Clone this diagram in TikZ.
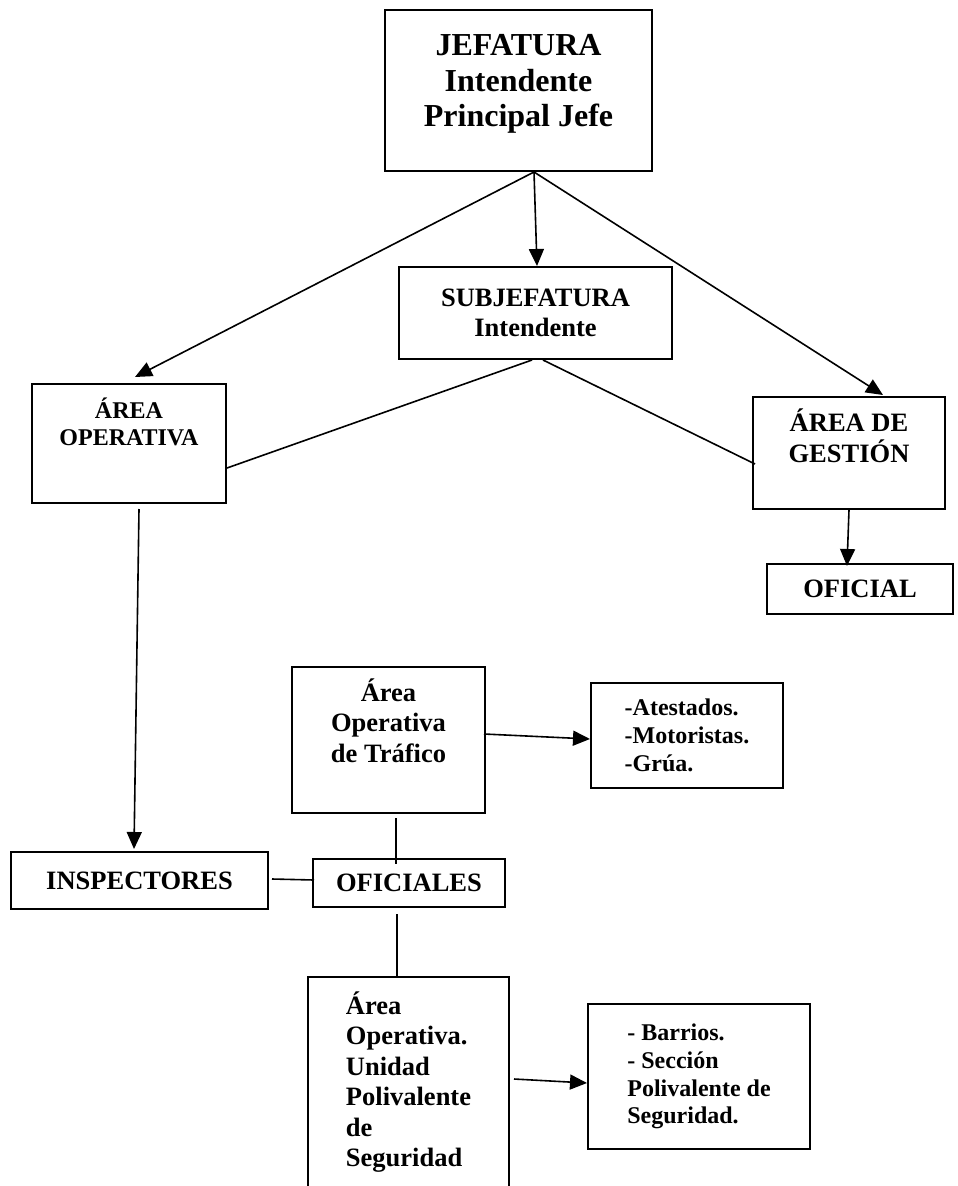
\documentclass[tikz,border=0pt]{standalone}
\usepackage{fontspec}
\setmainfont{Liberation Serif}
\usepackage{tikz}
\usetikzlibrary{arrows.meta, positioning}
\tikzset{
  org/box/.style={rectangle, draw=black, fill=white, line width=2pt,
    font=\fontsize{26.5}{30.5}\selectfont\bfseries, align=center,
    inner sep=0pt},
  org/top/.style={org/box, font=\fontsize{32}{35.5}\selectfont\bfseries},
  org/small/.style={org/box, font=\fontsize{24}{27.7}\selectfont\bfseries},
  org/list/.style={org/box, align=left},
  org/arr/.style={-{Triangle[length=17pt,width=15pt]}, line width=1.6pt},
  org/line/.style={line width=1.6pt}
}

\begin{document}
\begin{tikzpicture}[x=1pt, y=-1pt]
    \useasboundingbox (0,0) rectangle (958,1186);
    % boxes
    \node[org/top, minimum width=267pt, minimum height=161pt]
      (jefatura) at (518.5,90.5) {JEFATURA\\Intendente\\Principal Jefe\\[-15.5pt]};
    \node[org/box, minimum width=273pt, minimum height=92pt]
      (subjef) at (535.5,313) {SUBJEFATURA\\Intendente};
    \node[org/small, minimum width=194pt, minimum height=119pt]
      (areaop) at (129,443.5) {ÁREA\\OPERATIVA\\[16pt]};
    \node[org/box, minimum width=192pt, minimum height=112pt]
      (gestion) at (849,453) {ÁREA DE\\GESTIÓN\\[4.5pt]};
    \node[org/box, minimum width=186pt, minimum height=50pt]
      (oficial) at (860,589) {OFICIAL};
    \node[org/box, minimum width=193pt, minimum height=146pt]
      (trafico) at (388.5,740) {Área\\Operativa\\de Tráfico\\[8.5pt]};
    \node[org/small, align=left, minimum width=192pt, minimum height=105pt]
      (atest) at (687,735.5) {-Atestados.\\-Motoristas.\\-Grúa.};
    \node[org/box, minimum width=257pt, minimum height=57pt]
      (inspect) at (139.5,880.5) {INSPECTORES};
    \node[org/box, minimum width=192pt, minimum height=48pt]
      (oficiales) at (409,883) {OFICIALES};
    \node[org/list, minimum width=201pt, minimum height=223pt]
      (unidad) at (408.5,1088.5)
      {Área\\Operativa.\\Unidad\\Polivalente\\de\\Seguridad\\[-11.5pt]};
    \node[org/small, align=left, minimum width=222pt, minimum height=145pt]
      (barrios) at (699,1076.5)
      {- Barrios.\\- Sección\\Polivalente de\\Seguridad.};

    % connectors
    \draw[org/arr] ([xshift=15.5pt]jefatura.south) -- ([xshift=6pt,yshift=6pt]areaop.north);
    \draw[org/arr] ([xshift=15.5pt]jefatura.south) -- ([xshift=1.5pt]subjef.north);
    \draw[org/arr] ([xshift=15.5pt]jefatura.south) -- ([xshift=34pt,yshift=1pt]gestion.north);
    \draw[org/line] ([xshift=-3.5pt]subjef.south) -- ([yshift=-24.5pt]areaop.east);
    \draw[org/line] ([xshift=7.5pt]subjef.south) -- ([xshift=3pt,yshift=-11pt]gestion.west);
    \draw[org/arr] (gestion.south) -- ([xshift=-13pt,yshift=-3pt]oficial.north);
    \draw[org/arr] ([xshift=10pt,yshift=-5pt]areaop.south) -- ([xshift=-5.5pt,yshift=2pt]inspect.north);
    \draw[org/arr] ([xshift=-2pt,yshift=6pt]trafico.east) -- ([yshift=-3.5pt]atest.west);
    \draw[org/line] ([xshift=7.5pt,yshift=-4pt]trafico.south) -- ([xshift=-13pt,yshift=-6pt]oficiales.north);
    \draw[org/line] ([xshift=3pt,yshift=1.5pt]inspect.east) -- ([xshift=2pt,yshift=3pt]oficiales.west);
    \draw[org/line] ([xshift=-12pt,yshift=-6pt]oficiales.south) -- ([xshift=-11.5pt]unidad.north);
    \draw[org/arr] ([xshift=4pt,yshift=9.5pt]unidad.east) -- ([yshift=-6.5pt]barrios.west);
\end{tikzpicture}
\end{document}
